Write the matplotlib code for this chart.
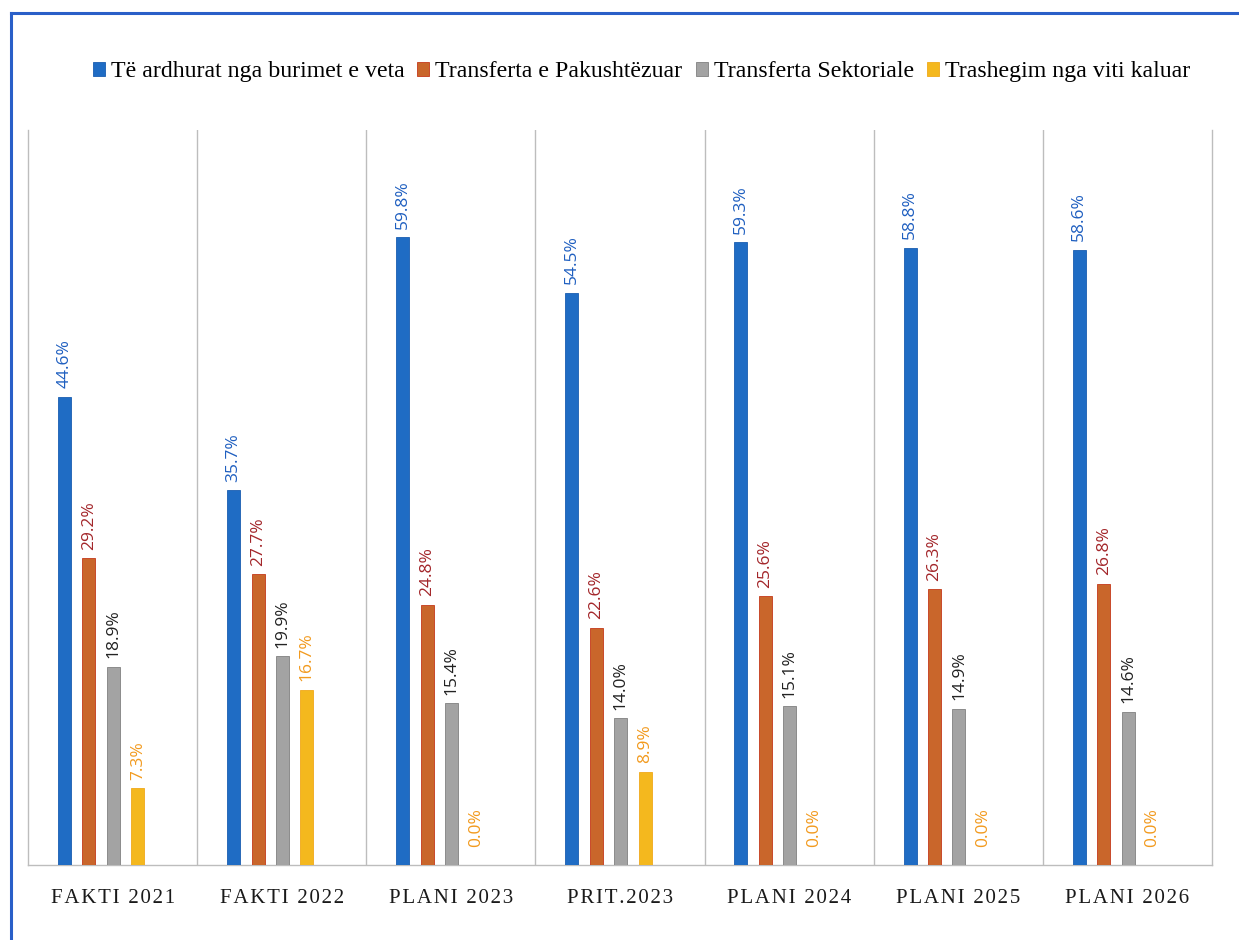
import numpy as np
import matplotlib
matplotlib.use("Agg")
import matplotlib.pyplot as plt
from matplotlib.lines import Line2D

# data
categories = ["FAKTI 2021", "FAKTI 2022", "PLANI 2023", "PRIT.2023",
              "PLANI 2024", "PLANI 2025", "PLANI 2026"]
series_names = ["Të ardhurat nga burimet e veta", "Transferta e Pakushtëzuar",
                "Transferta Sektoriale", "Trashegim nga viti kaluar"]
own_rev = [44.6, 35.7, 59.8, 54.5, 59.3, 58.8, 58.6]
uncond = [29.2, 27.7, 24.8, 22.6, 25.6, 26.3, 26.8]
sector = [18.9, 19.9, 15.4, 14.0, 15.1, 14.9, 14.6]
carry = [7.3, 16.7, 0.0, 8.9, 0.0, 0.0, 0.0]

bar_colors = ["#1F6CC4", "#C9662B", "#A3A3A3", "#F4B81E"]
edge_colors = ["#1A5DB0", "#C4391A", "#808080", "#F0A81A"]
label_colors = ["#1F5FC0", "#A3262A", "#222222", "#F29A1E"]

fig = plt.figure(figsize=(12.39, 9.4), dpi=100)
ax = fig.add_axes([0.0226, 0.0798, 0.9556, 0.7819])

x = np.arange(len(categories))
offsets = [-0.285, -0.140, 0.004, 0.149]
width = 0.077
data = [own_rev, uncond, sector, carry]

for i in range(4):
    bars = ax.bar(x + offsets[i], data[i], width, color=bar_colors[i],
                  edgecolor=edge_colors[i], linewidth=0.6, label=series_names[i],
                  zorder=3)
    for b, v in zip(bars, data[i]):
        gap = 13 if v == 0 else 6
        ax.annotate(f"{v:.1f}%", (b.get_x() + b.get_width() / 2, v),
                    xytext=(0, gap), textcoords="offset points",
                    rotation=90, ha="center", va="bottom",
                    fontsize=12.5, color=label_colors[i], family="Open Sans")

ax.set_xlim(-0.5, len(categories) - 0.5)
ax.set_ylim(0, 70)
ax.set_yticks([])
ax.set_xticks(x)
# a little letter spacing like the original
spaced = ["\u200a".join(c) for c in categories]
ax.set_xticklabels(spaced, family="Liberation Serif", fontsize=15,
                   color="#1a1a1a")
ax.tick_params(axis="x", length=0, pad=17)
for b in np.arange(0.5, len(categories) - 0.5, 1):
    ax.axvline(b, color="#BDBDBD", linewidth=1, zorder=1)
ax.spines["top"].set_visible(False)
for s in ["left", "right", "bottom"]:
    ax.spines[s].set_color("#BDBDBD")
    ax.spines[s].set_linewidth(1)

ax.legend(loc="center", bbox_to_anchor=(0.518, 1 + (130 - 72) / 734.0),
          ncol=4, frameon=False, handlelength=0.5, handleheight=0.5,
          handletextpad=0.25, columnspacing=0.55,
          prop={"family": "Liberation Serif", "size": 17.2})

# scanned page border (blue)
fig.add_artist(Line2D([11 / 1239, 11 / 1239], [0, 1 - 13 / 940],
                      color="#2A5FC8", linewidth=2.2, transform=fig.transFigure))
fig.add_artist(Line2D([11 / 1239, 1], [1 - 13 / 940, 1 - 13 / 940],
                      color="#2A5FC8", linewidth=2.2, transform=fig.transFigure))

fig.savefig("out.png", dpi=100)
